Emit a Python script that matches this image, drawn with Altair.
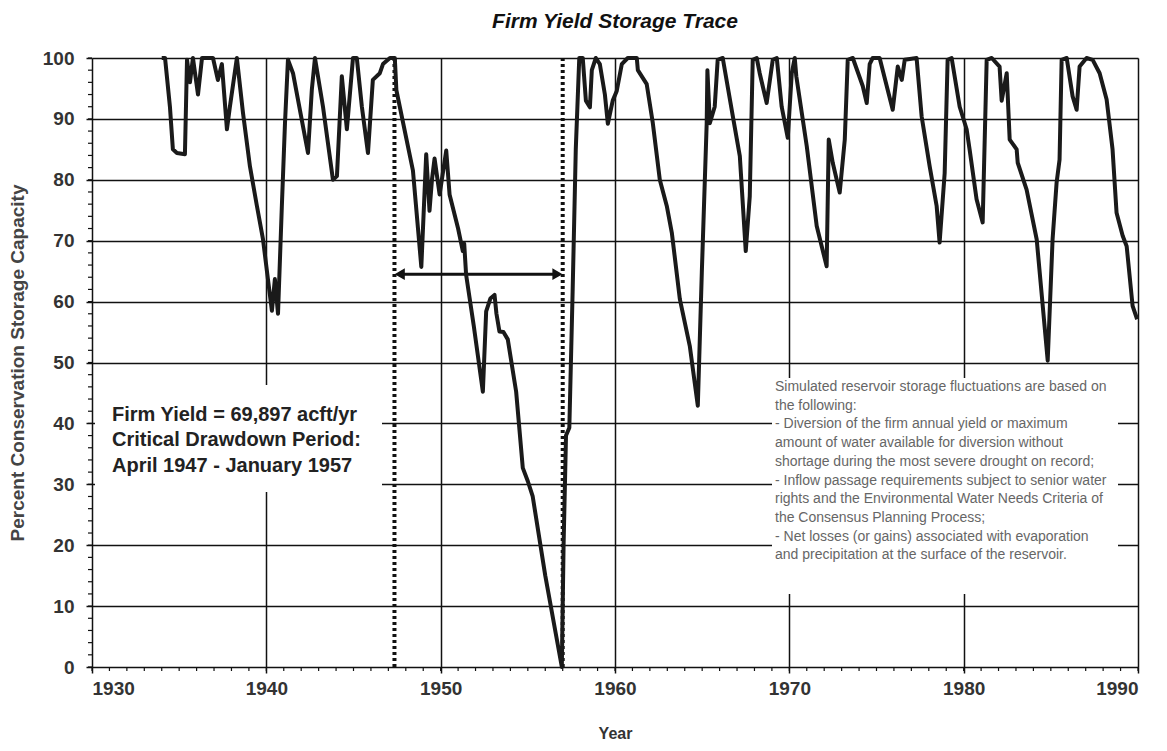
import altair as alt
import pandas as pd

# ---- data ----
years = [1934.0, 1934.19, 1934.47, 1934.64, 1934.87, 1935.33, 1935.45, 1935.62, 1935.79, 1936.08,
         1936.31, 1936.94, 1937.22, 1937.45, 1937.74, 1937.91, 1938.31, 1938.66, 1939.06, 1939.46,
         1939.81, 1940.09, 1940.32, 1940.49, 1940.67, 1940.89, 1941.07, 1941.24, 1941.53, 1942.10,
         1942.39, 1942.61, 1942.79, 1943.25, 1943.82, 1944.05, 1944.33, 1944.62, 1944.97, 1945.19,
         1945.48, 1945.83, 1946.11, 1946.51, 1946.69, 1947.09, 1947.37,
         1947.46, 1948.41, 1948.89, 1949.17, 1949.36, 1949.5, 1949.65, 1949.94, 1950.32,
         1950.51, 1951.0, 1951.27, 1951.35, 1951.46, 1951.9, 1952.42, 1952.61, 1952.85, 1953.09,
         1953.2, 1953.37, 1953.6, 1953.85, 1954.33, 1954.71, 1955.0, 1955.28, 1956.0, 1956.95,
         1957.05, 1957.19, 1957.38, 1957.57, 1957.75, 1957.95,
         1958.15, 1958.33, 1958.56, 1958.67, 1958.90, 1959.13, 1959.42, 1959.59, 1959.87, 1960.10,
         1960.39, 1960.73, 1961.25, 1961.31, 1961.82, 1962.17, 1962.57, 1962.97, 1963.26, 1963.72,
         1964.29, 1964.75, 1964.98, 1965.26, 1965.3, 1965.44, 1965.72, 1965.89, 1966.18, 1966.76,
         1967.16, 1967.5, 1967.73, 1967.90, 1968.13, 1968.30, 1968.70, 1969.05, 1969.28, 1969.56,
         1969.91, 1970.14, 1970.31, 1970.4, 1971.0, 1971.57, 1972.14, 1972.26, 1972.49, 1972.89,
         1973.18, 1973.35, 1973.64, 1974.21, 1974.44, 1974.61, 1974.78, 1975.18, 1975.93, 1976.22,
         1976.45, 1976.62, 1977.30, 1977.59, 1978.05, 1978.45, 1978.62, 1978.91, 1979.08, 1979.31,
         1979.77, 1980.17, 1980.34, 1980.74, 1981.09, 1981.32, 1981.61, 1982.06, 1982.18, 1982.47,
         1982.64, 1983.04, 1983.10, 1983.61, 1984.19, 1984.82, 1985.10, 1985.33, 1985.50, 1985.62,
         1985.91, 1986.25, 1986.48, 1986.65, 1987.05, 1987.40, 1987.80, 1988.20, 1988.54, 1988.77,
         1989.12, 1989.35, 1989.69, 1989.95]
storage = [100, 100, 92, 85, 84.4, 84.2, 99.7, 96, 100, 94,
           100, 100, 96.4, 99, 88.3, 92, 100, 91, 82.2, 75.7,
           70.2, 63.7, 58.5, 63.7, 58.0, 75.7, 89.3, 99.7, 97.5, 88.8,
           84.4, 94.8, 100, 92, 80, 80.6, 97, 88.3, 100, 100,
           92, 84.4, 96.4, 97.5, 99, 100, 100,
           94.7, 81.5, 65.7, 84.2, 74.9, 80, 83.5, 77.6, 84.8,
           77.6, 72, 68.3, 69.5, 64.4, 56, 45.2, 58.4, 60.5, 61.1,
           58, 55.1, 55, 53.8, 45.2, 32.7, 30.5, 28, 15, 0,
           20, 38, 39.3, 61.7, 85, 100,
           100, 93, 91.9, 98, 100, 99, 94, 89.2, 93, 94.6,
           99, 100, 100, 98, 95.7, 89.3, 80, 75.7, 71.3, 60.4,
           52.7, 42.9, 64.8, 89.3, 98, 89.3, 92, 99.7, 100, 90.4,
           83.9, 68.3, 77.3, 99.7, 100, 97.5, 92.6, 99.7, 100, 92,
           86.9, 97.5, 100, 97, 85.5, 72.4, 65.8, 86.6, 82.8, 77.9,
           86.6, 99.7, 100, 95.4, 92.6, 99, 100, 100, 91.5, 98.6,
           96.4, 99.7, 100, 90.4, 82.2, 75.7, 69.7, 81.1, 99.7, 100,
           92, 88.3, 85, 76.8, 73, 99.7, 100, 98.6, 93, 97.5,
           86.6, 85, 82.8, 78.4, 70.2, 50.3, 70.2, 79.5, 83.3, 99.7,
           100, 93.7, 91.5, 98.6, 100, 99.7, 97.5, 93.2, 85, 74.6,
           70.8, 69.1, 59.3, 57.1]

period_bounds = [1947.35, 1957.0]
arrow_level = 64.5
x_ticks = [1930, 1940, 1950, 1960, 1970, 1980, 1990]
y_ticks = [0, 10, 20, 30, 40, 50, 60, 70, 80, 90, 100]
x_minor = list(range(1930, 1991))
y_minor = list(range(0, 101, 2))

left_notes = ["Firm Yield = 69,897 acft/yr",
              "Critical Drawdown Period:",
              "April  1947 - January 1957"]
right_notes = ["Simulated reservoir storage fluctuations are based on",
               "the following:",
               "- Diversion of the firm annual yield or maximum",
               "amount of water available for diversion without",
               "shortage during the most severe drought on record;",
               "- Inflow passage requirements subject to senior water",
               "rights and the Environmental Water Needs Criteria of",
               "the Consensus Planning Process;",
               "- Net losses (or gains) associated with evaporation",
               "and precipitation at the surface of the reservoir."]

W, H = 1046, 609
FONT = "Liberation Sans"

df = pd.DataFrame({"year": years, "pct": storage})

xs = alt.Scale(domain=[1930, 1990], nice=False, zero=False)
ys = alt.Scale(domain=[0, 100], nice=False)

x_axis = alt.Axis(values=x_ticks, format="d", title="Year", grid=True, gridColor="#111",
                  gridWidth=1.5, domain=False, tickColor="#111", tickSize=6, tickWidth=1.5,
                  labelFont=FONT, labelFontSize=19, labelFontWeight="bold", labelColor="#333",
                  labelPadding=6, titleFont=FONT, titleFontSize=16, titleFontWeight="bold",
                  titleColor="#333", titlePadding=27)
y_axis = alt.Axis(values=y_ticks, title="Percent Conservation Storage Capacity", grid=True,
                  gridColor="#111", gridWidth=1.5, domain=False, tickColor="#111", tickSize=6,
                  tickWidth=1.5, labelFont=FONT, labelFontSize=19, labelFontWeight="bold",
                  labelColor="#333", labelPadding=12, titleFont=FONT, titleFontSize=19,
                  titleFontWeight="bold", titleColor="#444", titlePadding=15)

line = alt.Chart(df).mark_line(color="#1a1a1a", strokeWidth=4, strokeJoin="round").encode(
    x=alt.X("year:Q", scale=xs, axis=x_axis),
    y=alt.Y("pct:Q", scale=ys, axis=y_axis),
)

# white boxes behind the notes
boxes = alt.Chart(pd.DataFrame({"x": [3, 680], "x2": [290, 1026], "y": [327, 320], "y2": [434, 536]})).mark_rect(
    color="white").encode(x=alt.X("x:Q", scale=None), x2="x2:Q", y=alt.Y("y:Q", scale=None), y2="y2:Q")

# minor ticks
xminor = alt.Chart(pd.DataFrame({"year": x_minor})).mark_rule(color="#111", strokeWidth=1.2).encode(
    x=alt.X("year:Q", scale=xs), y=alt.value(H), y2=alt.value(H + 4))
yminor = alt.Chart(pd.DataFrame({"pct": y_minor})).mark_rule(color="#111", strokeWidth=1.2).encode(
    y=alt.Y("pct:Q", scale=ys), x=alt.value(-4), x2=alt.value(0))

dotted = alt.Chart(pd.DataFrame({"year": period_bounds})).mark_rule(
    color="#111", strokeWidth=4, strokeDash=[3, 3]).encode(
    x=alt.X("year:Q", scale=xs), y=alt.value(0), y2=alt.value(H))

arrow_df = pd.DataFrame({"x1": [period_bounds[0] + 0.35], "x2": [period_bounds[1] - 0.35], "y": [arrow_level]})
arrow = alt.Chart(arrow_df).mark_rule(color="#111", strokeWidth=3).encode(
    x=alt.X("x1:Q", scale=xs), x2="x2:Q", y=alt.Y("y:Q", scale=ys))
heads_df = pd.DataFrame({"x": [period_bounds[0] + 0.3, period_bounds[1] - 0.3], "y": [arrow_level] * 2,
                         "shape": ["triangle-left", "triangle-right"]})
heads = alt.Chart(heads_df).mark_point(filled=True, color="#111", size=140, opacity=1).encode(
    x=alt.X("x:Q", scale=xs), y=alt.Y("y:Q", scale=ys),
    shape=alt.Shape("shape:N", scale=None, legend=None))

left_df = pd.DataFrame({"t": left_notes, "y": [357, 382, 408]})
left_txt = alt.Chart(left_df).mark_text(align="left", baseline="middle", font=FONT, fontSize=20,
                                        fontWeight="bold", color="#222").encode(
    text="t:N", x=alt.value(20), y=alt.Y("y:Q", scale=None))

right_df = pd.DataFrame({"t": right_notes, "y": [329 + 18.7 * i for i in range(len(right_notes))]})
right_txt = alt.Chart(right_df).mark_text(align="left", baseline="middle", font=FONT, fontSize=14,
                                          color="#666").encode(
    text="t:N", x=alt.value(683), y=alt.Y("y:Q", scale=None))

chart = alt.layer(boxes, xminor, yminor, dotted, arrow, heads, line, left_txt, right_txt).properties(
    width=W, height=H,
    autosize=alt.AutoSizeParams(type="none"),
    padding={"left": 84, "top": 50, "right": 21, "bottom": 76},
    title=alt.TitleParams("Firm Yield Storage Trace", font=FONT, fontSize=21, fontStyle="italic",
                          fontWeight="bold", color="#111", anchor="middle", offset=17),
).configure_view(stroke="#111", strokeWidth=2.5).configure(background="white")

chart.save("out.html", embed_options={"renderer": "svg", "actions": False})
